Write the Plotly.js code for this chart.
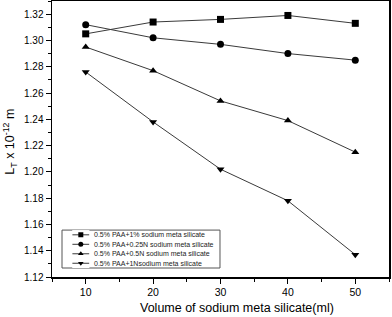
<!DOCTYPE html>
<html>
<head>
<meta charset="utf-8">
<script src="https://cdn.plot.ly/plotly-3.0.1.min.js"></script>
<style>html,body{margin:0;padding:0;background:#fff;}#chart{width:392px;height:317px;}</style>
</head>
<body>
<div id="chart"></div>
<script>
const volume = [10, 20, 30, 40, 50];
const seriesNames = [
  '0.5% PAA+1% sodium meta silicate',
  '0.5% PAA+0.25N sodium meta silicate',
  '0.5% PAA+0.5N sodium meta silicate',
  '0.5% PAA+1Nsodium meta silicate'
];
const pct1 = [1.305, 1.314, 1.316, 1.319, 1.313];
const n025 = [1.312, 1.302, 1.297, 1.290, 1.285];
const n05 = [1.295, 1.277, 1.254, 1.239, 1.215];
const n1 = [1.276, 1.238, 1.202, 1.178, 1.137];
const symbols = ['square', 'circle', 'triangle-up', 'triangle-down'];
const yTickVals = [1.12, 1.14, 1.16, 1.18, 1.20, 1.22, 1.24, 1.26, 1.28, 1.30, 1.32];
const xTickVals = [10, 20, 30, 40, 50];

const allSeries = [pct1, n025, n05, n1];
const traces = allSeries.map((ys, i) => ({
  x: volume, y: ys, type: 'scatter', mode: 'lines+markers', name: seriesNames[i],
  line: {color: '#3a3a3a', width: 1},
  marker: {symbol: symbols[i], size: 7, color: '#000'},
  showlegend: false, cliponaxis: false
}));

// compact legend box drawn on a helper axis pair
const legTop = 0.170, legBot = 0.0326;
const annotations = [];
seriesNames.forEach((nm, i) => {
  traces.push({
    x: [0, 1], y: [i + 0.5, i + 0.5], xaxis: 'x2', yaxis: 'y2', type: 'scatter', mode: 'lines',
    line: {color: '#3a3a3a', width: 1}, showlegend: false, hoverinfo: 'skip'
  });
  traces.push({
    x: [0.5], y: [i + 0.5], xaxis: 'x2', yaxis: 'y2', type: 'scatter', mode: 'markers',
    marker: {symbol: symbols[i], size: 5, color: '#000'}, showlegend: false, hoverinfo: 'skip'
  });
  annotations.push({
    xref: 'paper', yref: 'paper', x: 0.118, y: legTop - (i + 0.5) / 4 * (legTop - legBot),
    text: nm, showarrow: false, xanchor: 'left', yanchor: 'middle',
    font: {family: 'Liberation Sans, Arial, sans-serif', size: 7, color: '#222'}
  });
});

annotations.push({
  xref: 'paper', yref: 'paper', x: 0.55, y: -0.113, yanchor: 'middle', xanchor: 'center', showarrow: false,
  text: 'Volume of sodium meta silicate(ml)',
  font: {family: 'Liberation Sans, Arial, sans-serif', size: 12.5, color: '#000'}
});
annotations.push({
  xref: 'paper', yref: 'paper', x: -0.125, y: 0.49, xanchor: 'center', yanchor: 'middle', showarrow: false,
  textangle: -90, text: 'L<sub>T</sub> x 10<sup>-12</sup> m',
  font: {family: 'Liberation Sans, Arial, sans-serif', size: 12.5, color: '#000'}
});

const layout = {
  width: 392, height: 317,
  margin: {l: 52, r: 3, t: 1, b: 40},
  paper_bgcolor: '#fff', plot_bgcolor: '#fff',
  showlegend: false,
  font: {family: 'Liberation Sans, Arial, sans-serif', color: '#000'},
  xaxis: {
    range: [5, 55], tickvals: xTickVals, ticks: 'outside', ticklen: 5, tickwidth: 1, tickcolor: '#000',
    minor: {dtick: 5, tick0: 5, ticks: 'outside', ticklen: 3, tickcolor: '#000', showgrid: false},
    showline: true, linecolor: '#000', linewidth: 1.5, mirror: true, showgrid: false, zeroline: false,
    tickfont: {size: 10.5}
  },
  yaxis: {
    range: [1.12, 1.33], tickvals: yTickVals, ticktext: yTickVals.map(v => v.toFixed(2)),
    ticks: 'outside', ticklen: 5, tickwidth: 1, tickcolor: '#000',
    minor: {dtick: 0.01, tick0: 1.12, ticks: 'outside', ticklen: 3, tickcolor: '#000', showgrid: false},
    showline: true, linecolor: '#000', linewidth: 1.5, mirror: true, showgrid: false, zeroline: false,
    tickfont: {size: 10}
  },
  xaxis2: {domain: [0.06, 0.111], range: [0, 1], visible: false, fixedrange: true, anchor: 'y2'},
  yaxis2: {domain: [legBot, legTop], range: [4, 0], visible: false, fixedrange: true, anchor: 'x2'},
  shapes: [{
    type: 'rect', xref: 'paper', yref: 'paper', x0: 0.0297, x1: 0.4985, y0: legBot, y1: legTop,
    line: {color: '#555', width: 1}, fillcolor: 'rgba(255,255,255,0)', layer: 'below'
  }],
  annotations: annotations
};

Plotly.newPlot('chart', traces, layout, {displayModeBar: false, staticPlot: true});
</script>
</body>
</html>
